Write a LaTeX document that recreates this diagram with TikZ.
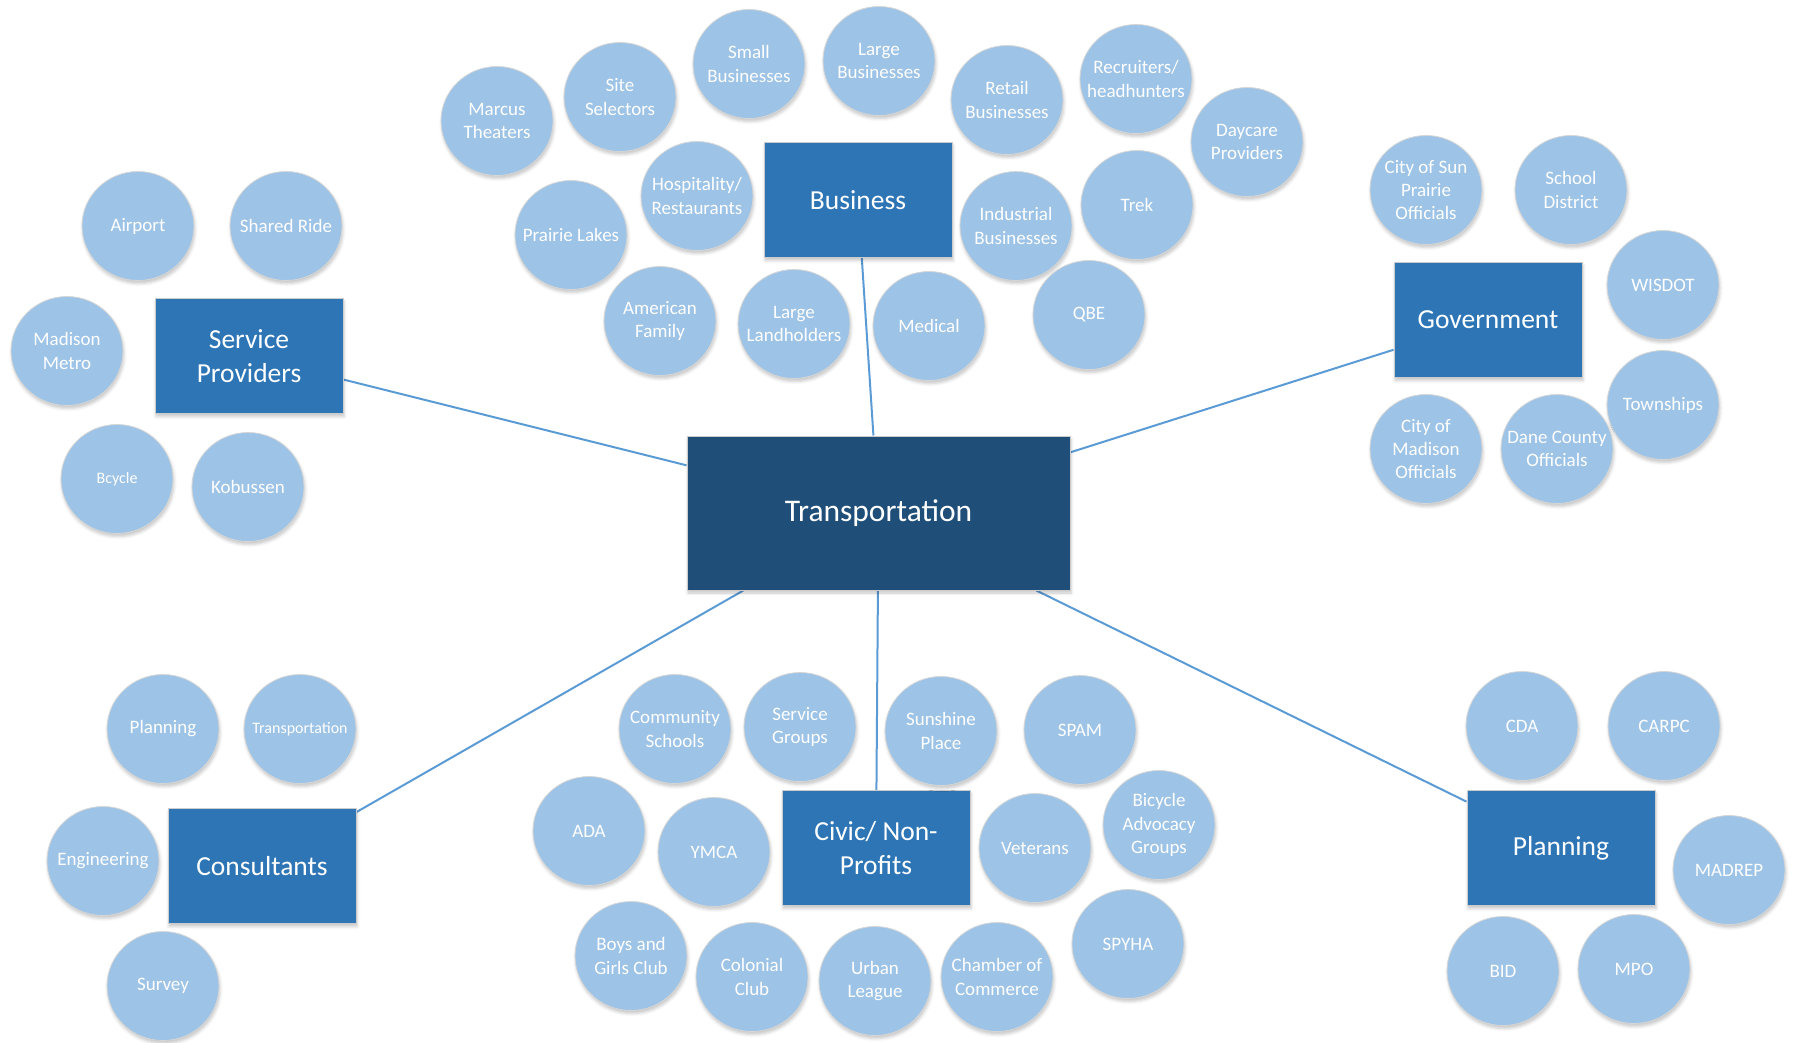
\documentclass[tikz,border=0pt]{standalone}
\usepackage{fontspec}
\setmainfont{Carlito}
\usetikzlibrary{shapes.geometric,shadows.blur,backgrounds}
\definecolor{circfill}{HTML}{9DC3E6}
\definecolor{boxfill}{HTML}{2E75B6}
\definecolor{hubfill}{HTML}{1F4E79}
\definecolor{linkcol}{HTML}{5B9BD5}
\begin{document}
\begin{tikzpicture}[x=1pt,y=-1pt,
  bubble/.style={ellipse, minimum width=112pt, minimum height=109pt, inner sep=0pt,
    fill=circfill, draw=black!16, line width=0.8pt,
    blur shadow={shadow xshift=1pt, shadow yshift=-3pt, shadow blur radius=3pt, shadow opacity=22}},
  bubtext/.style={text=white, align=center, inner sep=0pt,
    font=\fontsize{19}{23.2}\selectfont},
  smalltext/.style={bubtext, font=\fontsize{16}{19.5}\selectfont},
  catbox/.style={rectangle, minimum width=188pt, minimum height=115pt, inner sep=0pt,
    fill=boxfill, draw=black!20, line width=1pt, text=white, align=center,
    font=\fontsize{27.5}{34}\selectfont,
    blur shadow={shadow xshift=1pt, shadow yshift=-3pt, shadow blur radius=3pt, shadow opacity=22}},
  hub/.style={catbox, fill=hubfill, minimum width=383pt, minimum height=154pt,
    font=\fontsize{31.5}{38}\selectfont},
  link/.style={draw=linkcol, line width=2pt}
]
\useasboundingbox (0,0) rectangle (1801,1043);

% category boxes
\node[hub] (trans) at (878.5,513) {Transportation};
\node[catbox] (bus) at (858,200) {Business};
\node[catbox] (sp) at (249,356) {Service\\Providers};
\node[catbox] (gov) at (1488,320) {Government};
\node[catbox] (cons) at (262,866) {Consultants};
\node[catbox] (civ) at (876,848) {Civic/ Non-\\Profits};
\node[catbox] (plan) at (1561,848) {Planning};

% business
\node[bubble, label={[bubtext]center:Marcus\\Theaters}] (b1) at (497,121) {};
\node[bubble, label={[bubtext]center:Site\\Selectors}] (b2) at (620,97) {};
\node[bubble, label={[bubtext]center:Small\\Businesses}] (b3) at (749,64) {};
\node[bubble, label={[bubtext]center:Large\\Businesses}] (b4) at (879,61) {};
\node[bubble, label={[bubtext]center:Retail\\Businesses}] (b5) at (1007,100) {};
\node[bubble, label={[bubtext]center:Recruiters/\\headhunters}] (b6) at (1136,79) {};
\node[bubble, label={[bubtext]center:Daycare\\Providers}] (b7) at (1247,142) {};
\node[bubble, label={[bubtext]center:Hospitality/\\Restaurants}] (b8) at (697,196) {};
\node[bubble, label={[bubtext]center:Prairie Lakes}] (b9) at (571,235) {};
\node[bubble, label={[bubtext]center:Industrial\\Businesses}] (b10) at (1016,226) {};
\node[bubble, label={[bubtext]center:Trek}] (b11) at (1137,205) {};
\node[bubble, label={[bubtext]center:American\\Family}] (b12) at (660,321) {};
\node[bubble, label={[bubtext]center:Large\\Landholders}] (b13) at (794,324) {};
\node[bubble, label={[bubtext]center:Medical}] (b14) at (929,326) {};
\node[bubble, label={[bubtext]center:QBE}] (b15) at (1089,315) {};

% service providers
\node[bubble, label={[bubtext]center:Airport}] (s1) at (138,226) {};
\node[bubble, label={[bubtext]center:Shared Ride}] (s2) at (286,226) {};
\node[bubble, label={[bubtext]center:Madison\\Metro}] (s3) at (67,351) {};
\node[bubble, label={[smalltext]center:Bcycle}] (s4) at (117,479) {};
\node[bubble, label={[bubtext]center:Kobussen}] (s5) at (248,487) {};

% government
\node[bubble, label={[bubtext]center:City of Sun\\Prairie\\Officials}] (g1) at (1426,190) {};
\node[bubble, label={[bubtext]center:School\\District}] (g2) at (1571,190) {};
\node[bubble, label={[bubtext]center:WISDOT}] (g3) at (1663,285) {};
\node[bubble, label={[bubtext]center:Townships}] (g4) at (1663,405) {};
\node[bubble, label={[bubtext]center:City of\\Madison\\Officials}] (g5) at (1426,449) {};
\node[bubble, label={[bubtext]center:Dane County\\Officials}] (g6) at (1557,449) {};

% consultants
\node[bubble, label={[bubtext]center:Planning}] (c1) at (163,729) {};
\node[bubble, label={[smalltext]center:Transportation}] (c2) at (300,729) {};
\node[bubble, label={[bubtext]center:Engineering}] (c3) at (103,861) {};
\node[bubble, label={[bubtext]center:Survey}] (c4) at (163,986) {};

% civic
\node[bubble, label={[bubtext]center:Community\\Schools}] (v1) at (675,729) {};
\node[bubble, label={[bubtext]center:Service\\Groups}] (v2) at (800,727) {};
\node[bubble, label={[bubtext]center:Sunshine\\Place}] (v3) at (941,731) {};
\node[bubble, label={[bubtext]center:SPAM}] (v4) at (1080,730) {};
\node[bubble, label={[bubtext]center:ADA}] (v5) at (589,831) {};
\node[bubble, label={[bubtext]center:YMCA}] (v6) at (714,852) {};
\node[bubble, label={[bubtext]center:Veterans}] (v7) at (1035,848) {};
\node[bubble, label={[bubtext]center:Bicycle\\Advocacy\\Groups}] (v8) at (1159,825) {};
\node[bubble, label={[bubtext]center:Boys and\\Girls Club}] (v9) at (631,956) {};
\node[bubble, label={[bubtext]center:Colonial\\Club}] (v10) at (752,977) {};
\node[bubble, label={[bubtext]center:Urban\\League}] (v11) at (875,981) {};
\node[bubble, label={[bubtext]center:Chamber of\\Commerce}] (v12) at (997,977) {};
\node[bubble, label={[bubtext]center:SPYHA}] (v13) at (1128,944) {};

% planning
\node[bubble, label={[bubtext]center:CDA}] (p1) at (1522,726) {};
\node[bubble, label={[bubtext]center:CARPC}] (p2) at (1664,726) {};
\node[bubble, label={[bubtext]center:MADREP}] (p3) at (1729,870) {};
\node[bubble, label={[bubtext]center:BID}] (p4) at (1503,971) {};
\node[bubble, label={[bubtext]center:MPO}] (p5) at (1634,969) {};

\begin{scope}[on background layer]
\draw[link] (trans) -- (bus);
\draw[link] (trans) -- (sp);
\draw[link] (trans) -- (gov);
\draw[link] (trans) -- (cons);
\draw[link] (trans) -- (civ);
\draw[link] (trans) -- (plan);
\end{scope}
\end{tikzpicture}
\end{document}
